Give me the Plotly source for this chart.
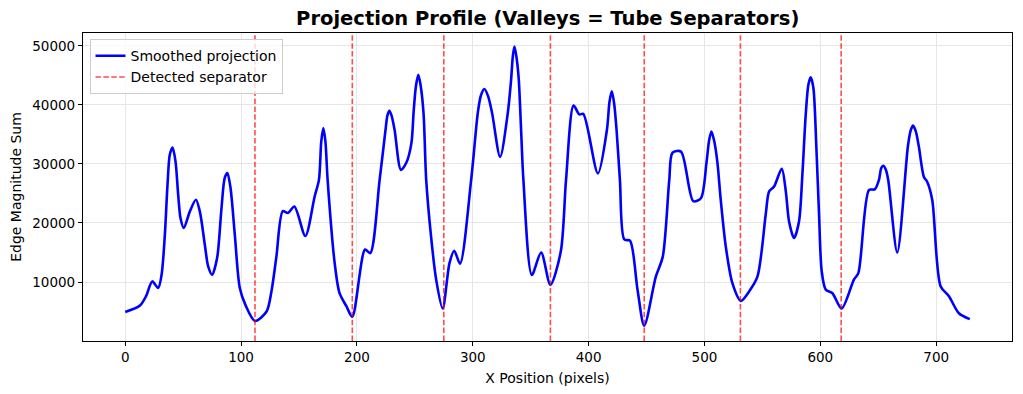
import plotly.graph_objects as go

# Smoothed projection profile
x_pos = [0, 12.7, 18, 23.3, 28.4, 31.4, 34.2, 36.5, 38.5, 40.9, 43.4, 45.7, 47.7, 50.6,
         55.8, 61, 64.4, 68.7, 71.6, 75, 79.3, 83.1, 85.9, 88.2, 90.9, 94.6, 98.9,
         104, 112, 122, 126.2, 130.5, 136,
         140.5, 146, 155.5, 163.5, 167.2, 169.2, 171, 172.8, 174.7, 180.8, 185, 190.9,
         196, 207, 211.5, 219.6, 224.7, 226.3, 228, 229.9, 232.5, 238, 242.6, 247, 249,
         251, 253, 255, 257.5, 259.8,
         264, 268.4, 274, 279.9, 284, 289, 298.6, 304.3, 307, 310, 313.2, 316.7, 323.6,
         330.2, 333.1, 334.6, 336, 337.8, 339.7, 341.7, 343.7, 351, 359, 367, 376, 380.5,
         387, 392, 395.4, 408, 415.8, 418, 420, 422, 424.1, 427, 430.8, 435.7, 442.2, 448,
         458, 464, 469.6, 472.4, 479.7, 490.3, 496.9, 501.7, 504, 506, 508.5, 511.2, 514,
         518.4, 524.1, 531.4, 538.5, 545.7, 553,
         555.8, 560.1, 566.7, 570.2, 573, 577.3, 581.6, 584.5, 587.4, 589.7, 591.7, 594,
         596.6, 598.9, 601.2, 604.7, 610.3,
         618.4, 629, 632.8, 642, 647, 650.6, 652.4, 654.3, 656.4, 658.6, 666.4, 675.6,
         678, 680, 682.3, 685, 689.4, 692.2, 696.6, 703.8, 711, 719.6, 729]
edge_sum = [4900, 6000, 7600, 10100, 8980, 11240, 18000, 26500, 31600, 32800, 30440,
            24800, 20850, 19150, 21970, 23950, 21970, 16320, 12640, 11240, 14070, 22540,
            27630, 28470, 25930, 18000, 8980, 6000, 3400, 5000, 8400, 14300, 22000,
            21700, 22800, 17800, 24500, 27300, 33800, 36100, 33800, 27300, 13200, 8100,
            5900, 4100, 15500, 14900, 27300, 35800, 38200, 39000, 38200, 35800, 29000,
            30200, 33500, 39000, 43300, 45100, 43300, 38600, 27300,
            17700, 10400, 5500, 13200, 15300, 13100, 27300, 38600, 41600, 42700, 41500,
            38600, 31200, 38600, 44300, 48300, 49900, 48000, 44300, 35800, 27300, 11200,
            15000, 9500, 15200, 27300, 39900, 38400, 38500, 28400, 35800, 40500, 42300,
            40300, 35800, 27300, 17200, 17000, 8700, 2600, 10900, 14300, 27300, 31900,
            32100, 23700, 24200, 30200, 34000, 35500, 33800, 30200, 24000, 16000, 9800,
            6800, 8400, 10900, 21700,
            25360, 26200, 29200, 25360, 20270, 17460, 20270, 28190, 38360, 43440, 44680,
            42880, 32710, 21400, 11800, 8700, 8140,
            5500, 10400, 11500, 25600, 25700, 27300, 29200, 29700, 29100, 27300, 15000,
            33000, 35700, 36500, 35600, 33000, 27800, 27000, 23900, 9300, 7600, 4700, 3700]

separators = [112, 196, 275, 367, 448, 531, 618]

fig = go.Figure()
fig.add_trace(go.Scatter(
    x=x_pos, y=edge_sum, mode="lines", name="Smoothed projection",
    line=dict(color="#0000ff", width=2.6, shape="spline", smoothing=0.8),
))
fig.add_trace(go.Scatter(
    x=[None], y=[None], mode="lines", name="Detected separator",
    line=dict(color="rgba(255,0,0,0.7)", width=1.6, dash="5.5px,2.4px"),
))
for s in separators:
    fig.add_vline(x=s, line=dict(color="rgba(255,0,0,0.7)", width=1.6, dash="5.5px,2.4px"))

# page body has an 8px margin: the figure is sized so the page fits the window
fig.update_layout(
    width=1007, height=378,
    margin=dict(l=75, r=3, t=25, b=45),
    paper_bgcolor="white", plot_bgcolor="white",
    font=dict(family="DejaVu Sans", size=14, color="black"),
    title=dict(text="<b>Projection Profile (Valleys = Tube Separators)</b>",
               x=0.536, xanchor="center", y=0.9735, yanchor="middle",
               font=dict(size=19.5, family="DejaVu Sans")),
    showlegend=True,
    legend=dict(x=0.007, y=0.98, xanchor="left", yanchor="top",
                bgcolor="rgba(255,255,255,0.8)", bordercolor="#cccccc", borderwidth=1,
                font=dict(size=14), tracegroupgap=0, itemwidth=30),
)
fig.update_xaxes(
    range=[-36.45, 765.45], tickvals=[0, 100, 200, 300, 400, 500, 600, 700],
    showgrid=True, gridcolor="#e6e6e6", gridwidth=1, zeroline=False,
    showline=True, linecolor="black", linewidth=1.2, mirror=True,
    ticks="outside", ticklen=4, tickcolor="black", automargin=False,
    tickfont=dict(size=13.5),
    title=dict(text="X Position (pixels)", font=dict(size=14), standoff=8),
)
fig.update_yaxes(
    range=[0, 52200], tickvals=[10000, 20000, 30000, 40000, 50000], tickformat="d",
    showgrid=True, gridcolor="#e6e6e6", gridwidth=1, zeroline=False,
    showline=True, linecolor="black", linewidth=1.2, mirror=True,
    ticks="outside", ticklen=4, tickcolor="black", automargin=False,
    tickfont=dict(size=13.5),
    title=dict(text="Edge Magnitude Sum", font=dict(size=14), standoff=8),
)

fig.write_html("out.html")
